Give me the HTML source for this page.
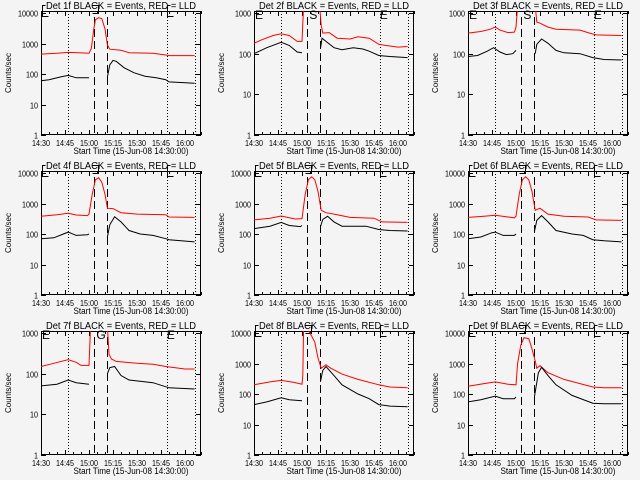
<!DOCTYPE html>
<html><head><meta charset="utf-8">
<style>
html,body{margin:0;padding:0;background:#f4f4f4;}
svg{display:block;font-family:"Liberation Sans",sans-serif;}
</style></head>
<body>
<svg id="chart" width="640" height="480" viewBox="0 0 640 480" xmlns="http://www.w3.org/2000/svg">
<rect width="640" height="480" fill="#f4f4f4"/>
</svg>
<script>
// x tick labels (minutes after 14:30)
const xTickMinutes = [0, 15, 30, 45, 60, 75, 90];
const xTickLabels = ["14:30", "14:45", "15:00", "15:15", "15:30", "15:45", "16:00"];
const detectorNames = ["1f","2f","3f","4f","5f","6f","7f","8f","9f"];
const decadeCounts = [4,3,3,4,4,4,3,4,4];
const dottedTimes = [17, 79, 96.5];
const dashedTimes = [33, 41.5];

const det1Red = [[0,450],[10,480],[17,510],[25,490],[30,480],[31.5,700],[33,3000],[34,6000],[36,7000],[38,6500],[40,3000],[41.5,900],[43,650],[50,600],[55,500],[70,480],[78,420],[80,400],[96,400]];
const det1Black = [[0,60],[5,65],[12,80],[17,90],[22,75],[30,75],null,[41.5,80],[43,200],[45,280],[47,260],[52,160],[58,110],[65,85],[72,75],[78,65],[80,55],[96,50]];
const det2Red = [[0,180],[5,220],[12,280],[17,310],[22,280],[27,200],[30,200],[31,1500],[41,1500],[42,500],[43,320],[47,330],[52,240],[60,230],[65,260],[72,240],[78,170],[82,160],[90,145],[96,150]];
const det2Black = [[0,100],[8,140],[17,190],[22,160],[27,110],[30,105],null,[41.5,130],[42.5,240],[45,200],[50,140],[55,125],[62,140],[68,130],[72,115],[78,90],[85,85],[96,80]];
const det3Red = [[0,320],[8,350],[14,400],[17,450],[20,380],[25,330],[29,340],[30,450],[31,1500],[42,1500],[43,600],[45,560],[50,450],[55,400],[70,380],[76,320],[80,290],[96,280]];
const det3Black = [[0,85],[6,90],[12,115],[16,140],[20,110],[24,95],[28,100],[30,120],null,[42,100],[43,170],[46,230],[50,180],[55,120],[60,105],[70,100],[78,80],[85,72],[96,70]];
const det4Red = [[0,380],[10,430],[17,480],[22,420],[29,400],[30,450],[32,2000],[34,6000],[36,7000],[38,5000],[40,2000],[41.5,700],[45,680],[50,500],[60,450],[78,430],[80,360],[96,350]];
const det4Black = [[0,70],[8,75],[14,100],[17,115],[22,90],[29,95],[30,100],null,[41.5,80],[43,200],[46,370],[50,250],[55,130],[62,100],[70,90],[78,70],[80,65],[96,55]];
const det5Red = [[0,290],[10,330],[17,390],[22,340],[26,310],[30,320],[32,2000],[34,6000],[36,7500],[38,6000],[40,2500],[42,600],[45,500],[50,450],[60,350],[75,330],[80,250],[96,240]];
const det5Black = [[0,150],[10,180],[17,240],[22,190],[29,175],[30,190],null,[41.5,170],[43,300],[46,380],[50,250],[55,180],[70,180],[78,140],[85,130],[96,125]];
const det6Red = [[0,350],[10,380],[17,410],[25,360],[29,340],[30,380],[32,2000],[34,6000],[36,7500],[38,6000],[40,2500],[42,600],[45,700],[50,450],[60,380],[75,360],[80,290],[96,280]];
const det6Black = [[0,70],[8,80],[15,110],[17,115],[22,90],[29,90],[30,100],null,[41.5,120],[43,280],[46,400],[50,250],[55,130],[65,100],[72,90],[78,65],[85,60],[96,55]];
const det7Red = [[0,150],[8,180],[17,220],[22,190],[25,160],[30,160],[31,1500],[41.5,1500],[42.5,300],[44,230],[47,200],[60,180],[70,170],[78,150],[90,130],[96,130]];
const det7Black = [[0,50],[10,55],[17,70],[22,60],[30,55],null,[41.5,100],[43,140],[46,150],[50,90],[55,70],[70,60],[80,45],[96,42]];
const det8Red = [[0,200],[10,250],[17,280],[25,240],[30,210],[30.5,400],[31,15000],[33,15000],[36,8000],[38,5000],[40,1500],[42,700],[45,900],[48,700],[55,450],[65,300],[78,200],[85,170],[96,160]];
const det8Black = [[0,45],[8,55],[17,75],[22,65],[30,60],null,[41.5,250],[43,600],[45,800],[50,400],[55,200],[65,100],[72,70],[78,45],[85,40],[96,38]];
const det9Red = [[0,180],[10,220],[17,250],[25,210],[30,200],[31,1000],[33,4000],[35,7000],[38,6500],[40,3000],[42,1200],[43,700],[45,850],[50,500],[60,300],[78,170],[85,160],[96,160]];
const det9Black = [[0,55],[8,65],[17,85],[22,70],[29,70],[30,80],null,[41.5,80],[44,500],[46,750],[50,400],[55,200],[65,90],[78,50],[85,48],[96,48]];

const redSeries = [det1Red,det2Red,det3Red,det4Red,det5Red,det6Red,det7Red,det8Red,det9Red];
const blackSeries = [det1Black,det2Black,det3Black,det4Black,det5Black,det6Black,det7Black,det8Black,det9Black];

const NS = "http://www.w3.org/2000/svg";
const svg = document.getElementById("chart");
function mk(tag, attrs, parent){
  const e = document.createElementNS(NS, tag);
  for (const k in attrs) e.setAttribute(k, attrs[k]);
  parent.appendChild(e);
  return e;
}

for (let p = 0; p < 9; p++) {
  const col = p % 3, row = Math.floor(p / 3);
  const ox = col * 213 + (col === 2 ? 1 : 0), oy = row * 160;
  const L = ox + 41, R = ox + 201, T = oy + 11, B = oy + 135;
  const dec = decadeCounts[p];
  const pxPerDec = (B - (oy + 13)) / dec;
  const xs = t => L + t * (R - L) / 100;
  const ys = v => B - Math.log10(v) * pxPerDec;

  const g = mk("g", {}, svg);
  
  

  const cid = "clip" + p;
  const cp = mk("clipPath", {id: cid}, g);
  mk("rect", {x: L, y: T, width: R - L, height: B - T}, cp);

  const title = mk("text", {x: (L + R) / 2, y: oy + 9, "text-anchor": "middle", "font-size": "10", fill: "#000", textLength: "150", lengthAdjust: "spacingAndGlyphs"}, g);
  title.textContent = "Det " + detectorNames[p] + " BLACK = Events, RED = LLD";
  
  

  const box = mk("rect", {x: L + 0.5, y: T + 0.5, width: R - L - 1, height: B - T - 1, fill: "none", stroke: "#000", "stroke-width": "1"}, g);
  
  

  for (let m = 0; m <= 100; m += 5) {
    const x = Math.round(xs(m)) + 0.5;
    const len = (m % 15 === 0) ? 5 : 3;
    mk("line", {x1: x, y1: B, x2: x, y2: B - len, stroke: "#000"}, g);
    mk("line", {x1: x, y1: T, x2: x, y2: T + len, stroke: "#000"}, g);
  }
  xTickMinutes.forEach((m, i) => {
    const t = mk("text", {x: xs(m), y: B + 11, "text-anchor": "middle", "font-size": "8.5", fill: "#000", textLength: "18", lengthAdjust: "spacingAndGlyphs"}, g);
    t.textContent = xTickLabels[i];
    
    
  });
  const xt = mk("text", {x: (L + R) / 2 + 10, y: B + 19, "text-anchor": "middle", "font-size": "9", fill: "#000", textLength: "115", lengthAdjust: "spacingAndGlyphs"}, g);
  xt.textContent = "Start Time (15-Jun-08 14:30:00)";
  
  

  for (let d = 0; d <= dec; d++) {
    const y = Math.round(ys(Math.pow(10, d))) + 0.5;
    mk("line", {x1: L, y1: y, x2: L + 5, y2: y, stroke: "#000"}, g);
    mk("line", {x1: R, y1: y, x2: R - 5, y2: y, stroke: "#000"}, g);
    const s = String(Math.pow(10, d));
    const t = mk("text", {x: L - 3, y: y + 3, "text-anchor": "end", "font-size": "8.5", fill: "#000", textLength: String(s.length * 4), lengthAdjust: "spacingAndGlyphs"}, g);
    t.textContent = s;
    
    
  }
  const yt = mk("text", {x: 0, y: 0, "text-anchor": "middle", "font-size": "8.5", fill: "#000", textLength: "40", lengthAdjust: "spacingAndGlyphs", transform: "translate(" + (ox + 11) + "," + (oy + 73) + ") rotate(-90)"}, g);
  yt.textContent = "Counts/sec";
  
  

  dottedTimes.forEach(tm => {
    const x = Math.round(xs(tm)) + 0.5;
    const l = mk("line", {x1: x, y1: T, x2: x, y2: B, stroke: "#000", "stroke-dasharray": "1,2"}, g);
    
    
  });
  dashedTimes.forEach(tm => {
    const x = Math.round(xs(tm)) + 0.5;
    const l = mk("line", {x1: x, y1: oy + 17, x2: x, y2: B, stroke: "#000", "stroke-dasharray": "8,4"}, g);
    
    
  });

  if (dec === 3) {
    [[0, "E"], [34, p === 6 ? "G" : "S"], [78, "E"]].forEach(([tm, s]) => {
      const t = mk("text", {x: xs(tm) + 1, y: oy + 19, "font-size": "12", fill: "#000"}, g);
      t.textContent = s;
      
      
    });
  } else {
    [0, 78].forEach(tm => {
      const x = Math.round(xs(tm)) + 1.5;
      const pth = mk("path", {d: "M" + (x + 6) + "," + (oy + 16.5) + " H" + x + " V" + (oy + 5.5) + " H" + (x + 3), fill: "none", stroke: "#000"}, g);
      
      
    });
    const x = Math.round(xs(34)) + 0.5;
    const pth = mk("path", {d: "M" + (x - 3) + "," + (oy + 5.5) + " H" + (x + 3) + " V" + (oy + 13.5) + " H" + (x - 3), fill: "none", stroke: "#000"}, g);
    
    
  }

  function drawSeries(data, color, name) {
    const segs = [[]];
    data.forEach(pt => { if (pt === null) segs.push([]); else segs[segs.length - 1].push(pt); });
    segs.forEach(seg => {
      if (seg.length < 2) return;
      const pts = seg.map(([t, v]) => xs(t).toFixed(1) + "," + ys(v).toFixed(1)).join(" ");
      const pl = mk("polyline", {points: pts, fill: "none", stroke: color, "stroke-width": "1", "clip-path": "url(#" + cid + ")"}, g);
      
      
    });
  }
  drawSeries(redSeries[p], "#ff0000", "lld-series-red");
  drawSeries(blackSeries[p], "#000000", "events-series-black");
}
</script>
</body></html>
